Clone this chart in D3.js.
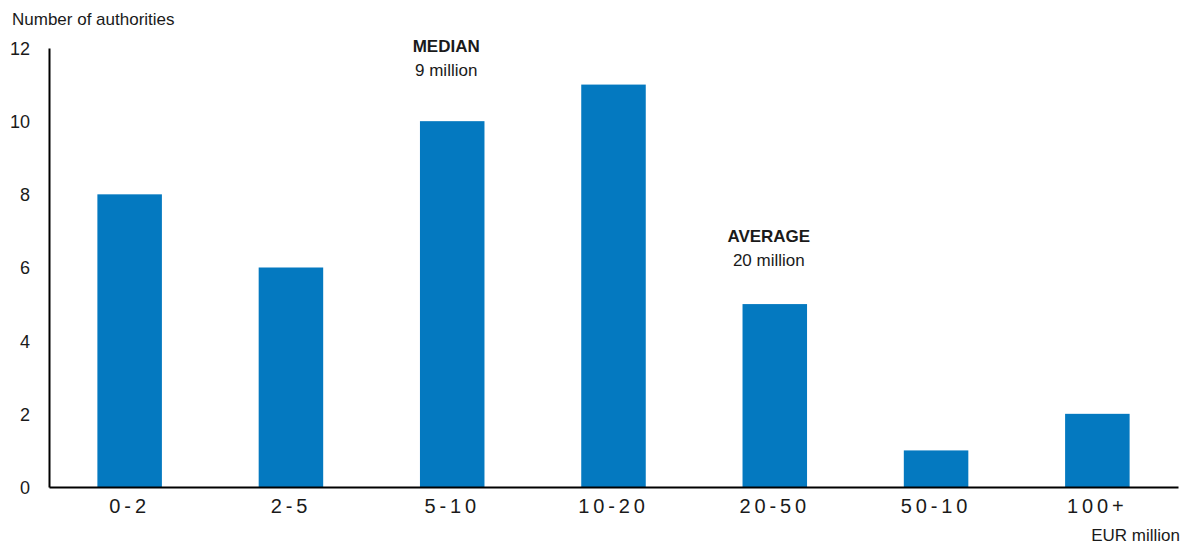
<!DOCTYPE html>
<html><head><meta charset="utf-8">
<script src="https://cdn.jsdelivr.net/npm/d3@7"></script>
<style>
html,body{margin:0;padding:0;background:#fff;}
svg text{font-family:"Liberation Sans",Arial,sans-serif;fill:#1a1a1a;}
</style></head>
<body><svg id="c" width="1186" height="545"></svg>
<script>
const categories = ["0-2","2-5","5-10","10-20","20-50","50-10","100+"];
const values = [8, 6, 10, 11, 5, 1, 2];
const yTicks = [0, 2, 4, 6, 8, 10, 12];
const annotations = [
  {cat:"5-10", y:11.9, title:"MEDIAN", sub:"9 million"},
  {cat:"20-50", y:6.7, title:"AVERAGE", sub:"20 million"}
];
const yTitle = "Number of authorities";
const xTitle = "EUR million";

const svg = d3.select("#c");
const L = 49, R = 1178, T = 48, B = 487;
const x = d3.scaleBand().domain(categories).range([L, R]).paddingInner(0.6).paddingOuter(0.3);
const y = d3.scaleLinear().domain([0, 12]).range([B, T]);

svg.append("g").selectAll("rect").data(values).join("rect")
  .attr("x", (d,i) => x(categories[i]))
  .attr("y", d => y(d))
  .attr("width", x.bandwidth())
  .attr("height", d => y(0) - y(d))
  .attr("fill", "#0479c0");

const ya = svg.append("g").attr("transform", `translate(${L},0)`)
  .call(d3.axisLeft(y).tickValues(yTicks).tickSize(0).tickSizeOuter(0).tickPadding(19));
ya.select(".domain").attr("stroke", "#000").attr("stroke-width", 2);
ya.selectAll("text").style("font-size", "18px").attr("dy", "0.36em");

const xa = svg.append("g").attr("transform", `translate(0,${B})`)
  .call(d3.axisBottom(x).tickSize(0).tickSizeOuter(0).tickPadding(11.5));
xa.select(".domain").attr("stroke", "#000").attr("stroke-width", 2);
xa.selectAll("text").style("font-size", "20px").style("letter-spacing", "3.9px")
  .style("font-family", "'Liberation Sans Narrow','Arial Narrow','Liberation Sans',sans-serif");

svg.append("text").attr("x", 12).attr("y", 25).style("font-size", "17px").text(yTitle);
svg.append("text").attr("x", 1180).attr("y", 541).attr("text-anchor", "end").style("font-size", "17px").text(xTitle);

annotations.forEach(a => {
  const cx = x(a.cat) + x.bandwidth()/2 - 6;
  const by = y(a.y);
  svg.append("text").attr("x", cx).attr("y", by).attr("text-anchor", "middle")
    .style("font-size", "17px").style("font-weight", "bold").text(a.title);
  svg.append("text").attr("x", cx).attr("y", by + 24).attr("text-anchor", "middle")
    .style("font-size", "17px").text(a.sub);
});
</script></body></html>
